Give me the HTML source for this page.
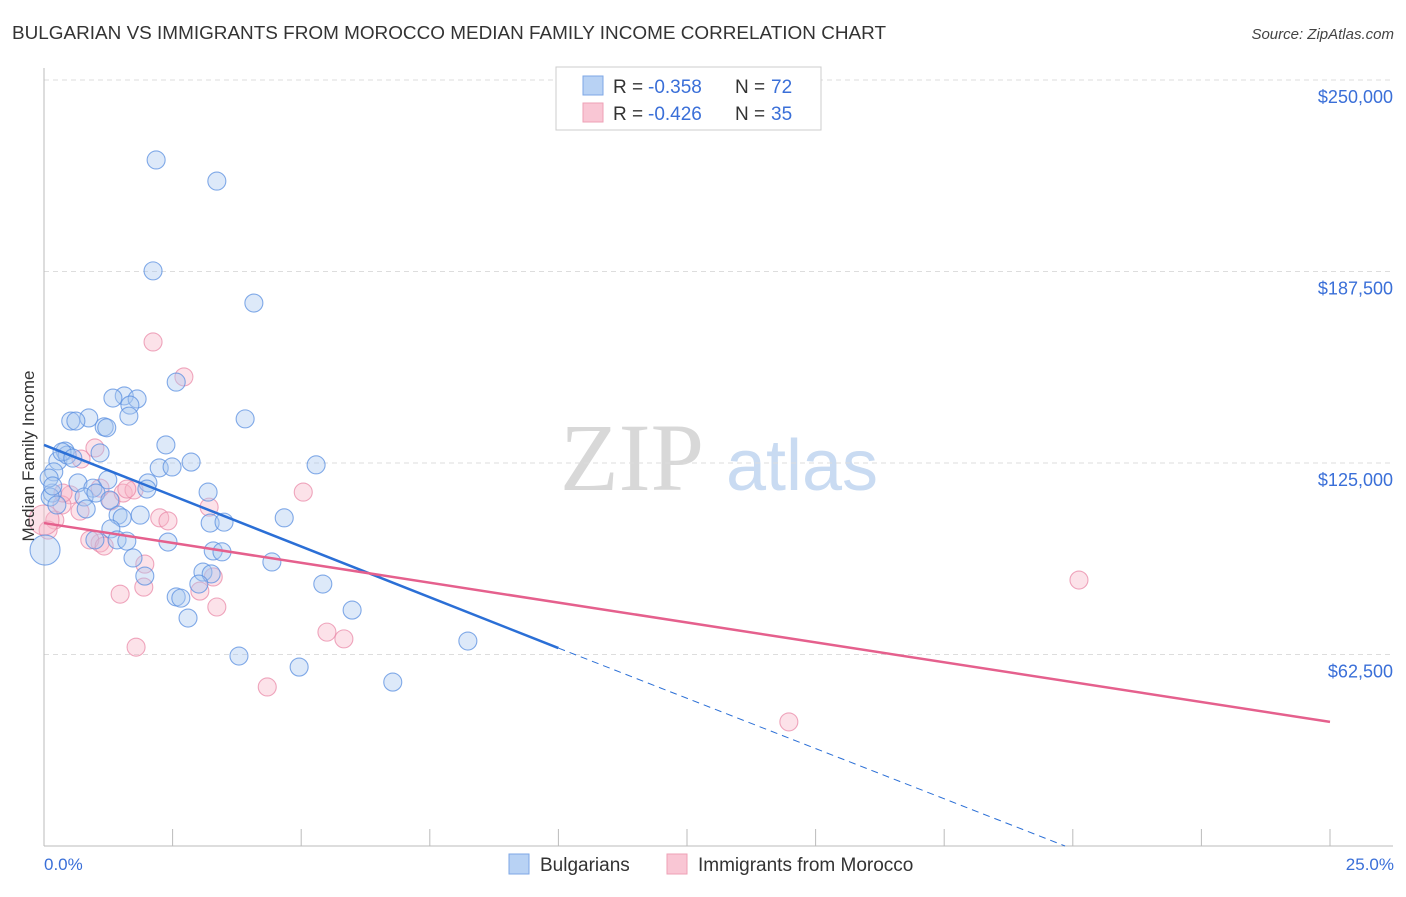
<!DOCTYPE html>
<html><head><meta charset="utf-8"><style>
body{margin:0;background:#fff;font-family:"Liberation Sans",sans-serif}
</style></head><body>
<svg id="chart" width="1406" height="892" xmlns="http://www.w3.org/2000/svg" style="font-family:'Liberation Sans',sans-serif">
<text x="12" y="39" font-size="18" fill="#333" textLength="874" lengthAdjust="spacingAndGlyphs">BULGARIAN VS IMMIGRANTS FROM MOROCCO MEDIAN FAMILY INCOME CORRELATION CHART</text>
<text x="1394" y="39" font-size="15" fill="#444" font-style="italic" text-anchor="end">Source: ZipAtlas.com</text>
<g>
<text x="632" y="490" font-size="96" font-family="'Liberation Serif',serif" fill="#d8d8d8" text-anchor="middle">ZIP</text>
<text x="802" y="490" font-size="72" fill="#c9dbf2" text-anchor="middle">atlas</text>
</g>
<g id="grid"></g>
<g id="axes"></g>
<g id="pink"></g>
<g id="blue"></g>
<g id="trends"></g>
<text transform="translate(34,456) rotate(-90)" font-size="17" fill="#333" text-anchor="middle">Median Family Income</text>
<text x="44" y="870" font-size="17" fill="#3a6fd8">0.0%</text>
<text x="1394" y="870" font-size="17" fill="#3a6fd8" text-anchor="end">25.0%</text>
<g>
<rect x="556" y="67" width="265" height="63" fill="#fff" stroke="#ccc"/>
<rect x="583" y="76" width="20" height="19" fill="#b8d2f4" stroke="#7ea7e6"/>
<rect x="583" y="103" width="20" height="19" fill="#f9c6d4" stroke="#eea0b6"/>
<text y="93" font-size="19" fill="#333"><tspan x="613">R = </tspan><tspan x="648" fill="#3a6fd8">-0.358</tspan><tspan x="735">N = </tspan><tspan x="771" fill="#3a6fd8">72</tspan></text>
<text y="120" font-size="19" fill="#333"><tspan x="613">R = </tspan><tspan x="648" fill="#3a6fd8">-0.426</tspan><tspan x="735">N = </tspan><tspan x="771" fill="#3a6fd8">35</tspan></text>
</g>
<g>
<rect x="509" y="854" width="20" height="20" fill="#b8d2f4" stroke="#7ea7e6"/>
<text x="540" y="871" font-size="19" fill="#333">Bulgarians</text>
<rect x="667" y="854" width="20" height="20" fill="#f9c6d4" stroke="#eea0b6"/>
<text x="698" y="871" font-size="19" fill="#333">Immigrants from Morocco</text>
</g>
</svg>
<script>
const yTicks=[62500,125000,187500,250000];
const yTickLabels=["$62,500","$125,000","$187,500","$250,000"];
const xTicks=[0,2.5,5,7.5,10,12.5,15,17.5,20,22.5,25];
const blueX=[2.18,3.36,2.12,4.08,2.57,3.91,1.56,1.81,1.67,1.34,1.65,0.52,0.87,0.62,1.17,2.37,0.41,0.27,0.45,0.35,1.09,0.56,2.86,2.24,2.49,5.29,0.19,0.66,1.24,2.02,0.95,2.00,0.16,0.78,1.01,3.19,0.12,1.44,1.52,0.82,1.87,3.23,3.50,4.67,1.30,1.42,1.61,0.99,2.41,3.29,3.46,1.73,4.43,3.09,3.25,1.96,5.42,3.01,2.57,2.66,5.99,2.80,3.79,4.96,8.24,6.78,0.02,0.10,0.17,1.28,0.25,1.22];
const blueY=[223900,217000,187700,177200,151400,139400,146900,145900,143900,146200,140300,138700,139700,138700,136800,130900,128900,125700,127600,128600,128300,126600,125300,123400,123700,124400,122100,118500,119500,118500,116800,116500,115200,113900,115200,115500,113900,108000,107100,110000,108000,105400,105700,107100,103500,99900,99500,99900,99200,96300,96000,94000,92700,89400,88800,88100,85500,85500,81300,80900,77000,74400,62000,58400,66900,53500,96600,120100,117500,112900,111300,136500];
const blueR=[9,9,9,9,9,9,9,9,9,9,9,9,9,9,9,9,9,9,9,9,9,9,9,9,9,9,9,9,9,9,9,9,9,9,9,9,9,9,9,9,9,9,9,9,9,9,9,9,9,9,9,9,9,9,9,9,9,9,9,9,9,9,9,9,9,9,15,9,9,9,9,9];
const pinkX=[2.12,2.72,5.04,3.21,2.25,2.41,1.30,1.54,1.75,1.61,1.09,0.72,0.99,0.51,0.35,0.21,0.70,0.08,0.0,1.09,0.89,1.17,1.96,1.94,1.48,3.03,3.29,3.36,5.50,5.83,1.79,4.34,20.12,14.48,0.37];
const pinkY=[164500,153100,115500,110600,107100,106100,112600,115200,116200,116500,116800,126300,129900,114600,111300,106400,109300,103100,106400,98900,99900,97900,92000,84500,82200,83200,87800,78000,69800,67600,64900,51900,86800,40500,115200];
const pinkR=[9,9,9,9,9,9,9,9,9,9,9,9,9,9,9,9,9,9,15,9,9,9,9,9,9,9,9,9,9,9,9,9,9,9,9];
const blueTrendX=[0,10,19.85];
const blueTrendY=[130900,64600,0];
const pinkTrendX=[0,25];
const pinkTrendY=[105400,40500];
const NS="http://www.w3.org/2000/svg";
const sx=v=>44+v/25*1286;
const sy=v=>846-v/250000*766;
function mk(tag,attrs,parent){const e=document.createElementNS(NS,tag);for(const k in attrs)e.setAttribute(k,attrs[k]);parent.appendChild(e);return e;}
const grid=document.getElementById('grid'),axes=document.getElementById('axes');
yTicks.forEach((t,i)=>{
 const l=mk('line',{x1:44,x2:1393,y1:sy(t),y2:sy(t),stroke:'#ddd','stroke-dasharray':'5,4'},grid);
 
 
 const tx=mk('text',{x:1393,y:sy(t)+23,'font-size':18,fill:'#3a6fd8','text-anchor':'end'},axes);
 tx.textContent=yTickLabels[i];
 
 
});
const ya=mk('line',{x1:44,x2:44,y1:68,y2:846,stroke:'#bbb'},axes);


const xa=mk('line',{x1:44,x2:1393,y1:846,y2:846,stroke:'#bbb'},axes);


xTicks.forEach(t=>{
 const l=mk('line',{x1:sx(t),x2:sx(t),y1:829,y2:846,stroke:'#bbb'},axes);
 
 
});
function pts(X,Y,R,g,fill,stroke,name){
 const p=document.getElementById(g);
 X.forEach((x,i)=>{
  const c=mk('circle',{cx:sx(x),cy:sy(Y[i]),r:R[i],fill:fill,'fill-opacity':0.4,stroke:stroke,'stroke-width':1.1,'stroke-opacity':0.75},p);
  
  
 });
}
pts(pinkX,pinkY,pinkR,'pink','#f7b6c9','#e98aa8','morocco-point');
pts(blueX,blueY,blueR,'blue','#a9c8f1','#5a8fe0','bulgarian-point');
const tr=document.getElementById('trends');
const b1=mk('line',{x1:sx(blueTrendX[0]),y1:sy(blueTrendY[0]),x2:sx(blueTrendX[1]),y2:sy(blueTrendY[1]),stroke:'#2b6fd6','stroke-width':2.5},tr);


const b2=mk('line',{x1:sx(blueTrendX[1]),y1:sy(blueTrendY[1]),x2:sx(blueTrendX[2]),y2:sy(blueTrendY[2]),stroke:'#2b6fd6','stroke-width':1,'stroke-dasharray':'7,5'},tr);


const p1=mk('line',{x1:sx(pinkTrendX[0]),y1:sy(pinkTrendY[0]),x2:sx(pinkTrendX[1]),y2:sy(pinkTrendY[1]),stroke:'#e5608d','stroke-width':2.5},tr);


</script>
</body></html>
